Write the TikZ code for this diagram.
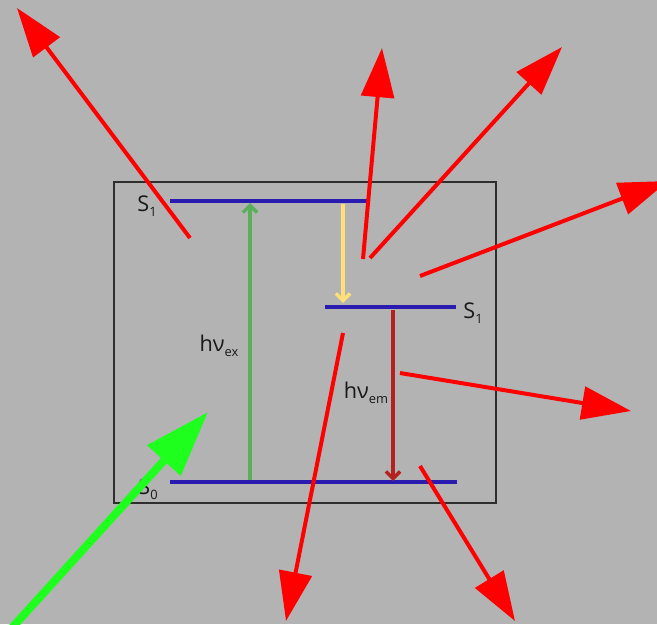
\documentclass[tikz,border=0pt]{standalone}
\usepackage{fontspec}
\setmainfont{Open Sans}
\usetikzlibrary{arrows.meta}
\definecolor{bggray}{HTML}{B3B3B3}
\definecolor{boxgray}{HTML}{2E2E2E}
\definecolor{levelblue}{HTML}{2A1BB0}
\definecolor{exgreen}{HTML}{5BAF5B}
\definecolor{relaxyellow}{HTML}{FFDF78}
\definecolor{emred}{HTML}{B3221E}
\definecolor{rayred}{HTML}{FF0000}
\definecolor{lightgreen}{HTML}{1EFF1E}
\newcommand{\lowidx}[1]{\raisebox{-0.45ex}{\fontsize{11}{13}\selectfont #1}}
\tikzset{
  level/.style={draw=levelblue, line width=3.3pt},
  trans/.style={line width=3pt, -{Straight Barb[length=6pt,width=12pt,line width=3pt]}},
  ray/.style={draw=rayred, line width=3.4pt, -{Triangle[length=42pt,width=28pt]}},
  pump/.style={draw=lightgreen, line width=6.8pt, -{Triangle[length=56pt,width=37pt]}},
  lbl/.style={font=\fontsize{18.5}{22}\selectfont, inner sep=0pt, text=black!90}
}
\begin{document}
\begin{tikzpicture}[x=0.03cm, y=-0.03cm]
\useasboundingbox (0,0) rectangle (657,624);
\fill[bggray] (0,0) rectangle (657,624);
\clip (0,0) rectangle (657,624);
\draw[boxgray, line width=1.7pt] (114,182) rectangle (496,503);
\coordinate (up1) at (170,201);
\coordinate (up2) at (367,201);
\coordinate (mid1) at (325,307);
\coordinate (mid2) at (456,307);
\coordinate (gnd1) at (170,482);
\coordinate (gnd2) at (457,482);
\draw[level] (up1) -- (up2);
\draw[level] (mid1) -- (mid2);
\draw[level] (gnd1) -- (gnd2);
\coordinate (exa) at (250,480);
\coordinate (exb) at (250,203);
\coordinate (rla) at (343,204);
\coordinate (rlb) at (343,303);
\coordinate (ema) at (393,310);
\coordinate (emb) at (393,481);
\draw[trans, exgreen] (exa) -- (exb);
\draw[trans, relaxyellow] (rla) -- (rlb);
\draw[trans, emred] (ema) -- (emb);
\node[lbl] (lup) at (147,206) {S\lowidx{1}};
\node[lbl] (lmid) at (473,313) {S\lowidx{1}};
\node[lbl] (lgnd) at (148,489) {S\lowidx{0}};
\node[lbl] (lex) at (219,346) {hν\lowidx{ex}};
\node[lbl] (lem) at (366,393) {hν\lowidx{em}};
\foreach \n/\sx/\sy/\tx/\ty in {1/190/238/17/8, 2/363/259/382/48, 3/370/258/562/47, 4/420/276/668/181, 5/400/373/631/411, 6/343/333/286/621, 7/420/466/515/621} {
  \coordinate (ray\n a) at (\sx,\sy);
  \coordinate (ray\n b) at (\tx,\ty);
  \draw[ray] (ray\n a) -- (ray\n b);
}
\coordinate (pumpa) at (0,641);
\coordinate (pumpb) at (208,412);
\draw[pump] (pumpa) -- (pumpb);
\end{tikzpicture}
\end{document}
